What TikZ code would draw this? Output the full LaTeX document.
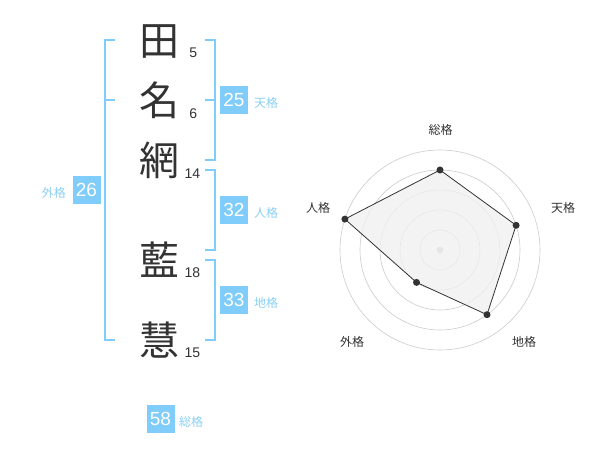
\documentclass[tikz,border=0pt]{standalone}
\usepackage{fontspec}
\setmainfont{Liberation Sans}
\newfontfamily\cjk{Noto Sans CJK JP}
\definecolor{boxblue}{HTML}{80CCFA}
\definecolor{lblblue}{HTML}{8CD0F5}
\definecolor{ink}{HTML}{333333}
\definecolor{ringgray}{HTML}{CCCCCC}
\definecolor{polyfill}{HTML}{F0F0F0}
\tikzset{
  kanji/.style={inner sep=0pt, text=ink, font=\cjk\fontsize{40}{40}\selectfont},
  strokes/.style={inner sep=0pt, text=ink, font=\fontsize{14}{14}\selectfont},
  bracket/.style={draw=boxblue, line width=2pt},
  valbox/.style={fill=boxblue, minimum width=28pt, minimum height=28pt, inner sep=0pt, text=white, font=\fontsize{19}{19}\selectfont},
  kaku/.style={inner sep=0pt, text=lblblue, font=\cjk\fontsize{12}{12}\selectfont},
  ring/.style={draw=ringgray, line width=0.6pt},
  axislbl/.style={inner sep=0pt, text=ink, font=\cjk\fontsize{12}{12}\selectfont},
  vdot/.style={circle, fill=ink, minimum size=7pt, inner sep=0pt},
}
\begin{document}
\begin{tikzpicture}[x=1pt,y=-1pt]
\useasboundingbox (0,0) rectangle (600,470);
\fill[white] (0,0) rectangle (600,470);
% kanji
\node[kanji] (k1) at (159,42) {田};
\node[kanji] (k2) at (159,100) {名};
\node[kanji] (k3) at (159,160) {網};
\node[kanji] (k4) at (159,260) {藍};
\node[kanji] (k5) at (159,340) {慧};
% strokes
\node[strokes] (s1) at (193.3,52.3) {5};
\node[strokes] (s2) at (193.3,113.3) {6};
\node[strokes] (s3) at (192.3,173.3) {14};
\node[strokes] (s4) at (192.3,272.7) {18};
\node[strokes] (s5) at (192.3,352.7) {15};
% left bracket
\draw[bracket] (115,40) -- (105,40) -- (105,340) -- (115,340);
\draw[bracket] (105,100) -- (115,100);
% right brackets
\draw[bracket] (205,40) -- (215,40) -- (215,160) -- (205,160);
\draw[bracket] (205,100) -- (215,100);
\draw[bracket] (205,170) -- (215,170) -- (215,250) -- (205,250);
\draw[bracket] (205,260) -- (215,260) -- (215,340) -- (205,340);
% value boxes
\node[valbox] (b25) at (234,100) {25};
\node[kaku, anchor=west] (l25) at (254,103) {天格};
\node[valbox] (b32) at (234,210) {32};
\node[kaku, anchor=west] (l32) at (254,213) {人格};
\node[valbox] (b33) at (234,300) {33};
\node[kaku, anchor=west] (l33) at (254,303) {地格};
\node[valbox] (b26) at (86.5,190) {26};
\node[kaku, anchor=east] (l26) at (66,193) {外格};
\node[valbox] (b58) at (160.5,419) {58};
\node[kaku, anchor=west] (l58) at (179,422) {総格};
% radar
\coordinate (c) at (440,250);
\foreach \r in {20,40,60,80,100} \draw[ring] (c) circle[radius=\r];
\fill[ringgray] (c) circle[radius=3.5];
\coordinate (p1) at (440,170);
\coordinate (p2) at (516.1,225.3);
\coordinate (p3) at (487.0,314.7);
\coordinate (p4) at (416.5,282.4);
\coordinate (p5) at (344.9,219.1);
\fill[polyfill, opacity=0.75] (p1) -- (p2) -- (p3) -- (p4) -- (p5) -- cycle;
\draw[ink, line width=0.8pt] (p1) -- (p2) -- (p3) -- (p4) -- (p5) -- cycle;
\foreach \p in {p1,p2,p3,p4,p5} \node[vdot] at (\p) {};
\node[axislbl] (a1) at (440.7,130) {総格};
\node[axislbl] (a2) at (563,208) {天格};
\node[axislbl] (a3) at (524,342) {地格};
\node[axislbl] (a4) at (352,342) {外格};
\node[axislbl] (a5) at (318,208) {人格};
\end{tikzpicture}
\end{document}
